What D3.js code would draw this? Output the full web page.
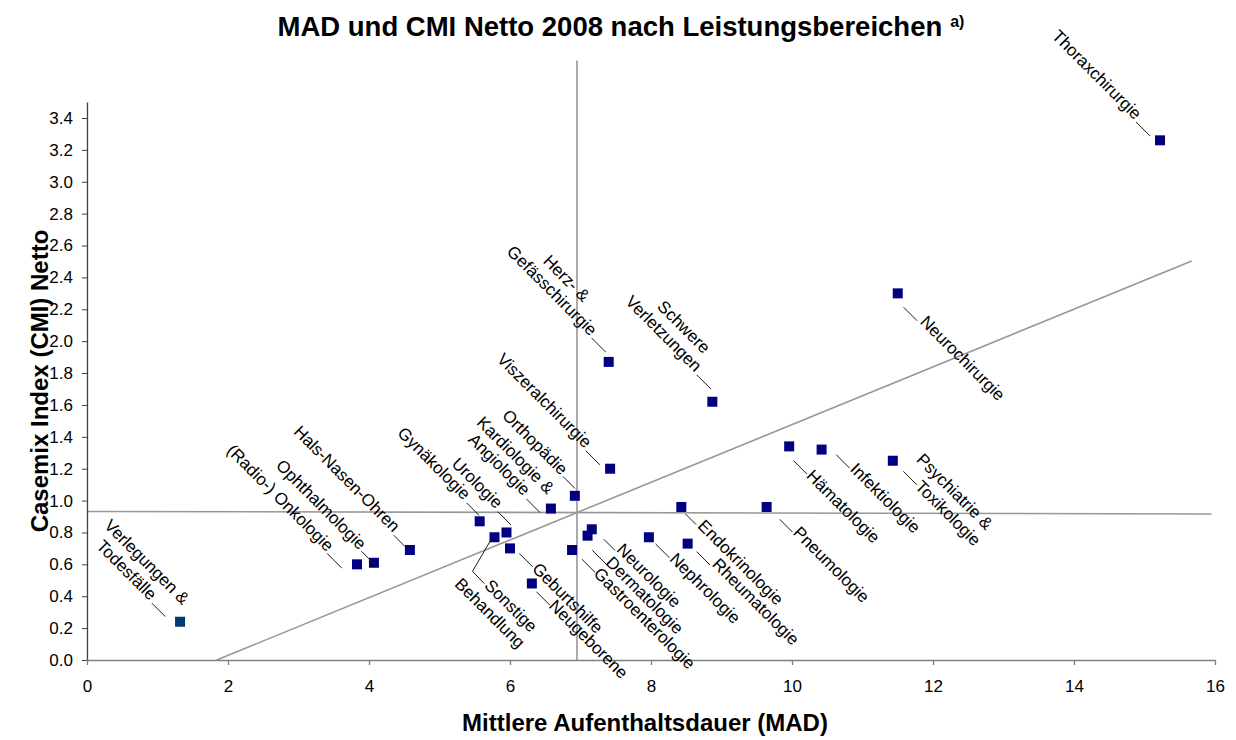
<!DOCTYPE html>
<html><head><meta charset="utf-8">
<script src="https://cdn.jsdelivr.net/npm/d3@7"></script>
<style>
body{margin:0;background:#fff}
text{font-family:"Liberation Sans",Arial,sans-serif;fill:#000}
</style>
</head><body>
<svg id="chart" width="1236" height="740"></svg>
<script>
// ---------- data ----------
const categories = [
  "Thoraxchirurgie","Neurochirurgie","Herz- &\nGefässchirurgie","Schwere\nVerletzungen",
  "Viszeralchirurgie","Hämatologie","Infektiologie","Psychiatrie &\nToxikologie",
  "Orthopädie","Kardiologie &\nAngiologie","Endokrinologie","Pneumologie",
  "Hals-Nasen-Ohren","Ophthalmologie","(Radio-) Onkologie","Verlegungen &\nTodesfälle",
  "Gynäkologie","Urologie","Sonstige\nBehandlung","Geburtshilfe",
  "Neugeborene","Gastroenterologie","Dermatologie","Neurologie",
  "Nephrologie","Rheumatologie"
];
const madValues = [15.22,11.50,7.40,8.87, 7.42,9.96,10.42,11.43, 6.92,6.58,8.43,9.64,
                   4.58,4.07,3.83,1.32, 5.57,5.95,5.78,6.00, 6.31,6.88,7.10,7.16, 7.97,8.52];
const cmiValues = [3.26,2.30,1.87,1.62, 1.20,1.34,1.32,1.25, 1.03,0.95,0.96,0.96,
                   0.69,0.61,0.60,0.24, 0.87,0.80,0.77,0.70, 0.48,0.69,0.78,0.82, 0.77,0.73];
const specialCategory = "Verlegungen &\nTodesfälle";

const xTickValues = [0,2,4,6,8,10,12,14,16];
const yTickValues = [0.0,0.2,0.4,0.6,0.8,1.0,1.2,1.4,1.6,1.8,2.0,2.2,2.4,2.6,2.8,3.0,3.2,3.4];

const meanMadLine = [[6.95,0],[6.95,3.76]];
const meanCmiLine = [[0,0.932],[15.95,0.916]];
const trendLine   = [[1.84,0],[15.67,2.503]];

const titleText = "MAD und CMI Netto 2008 nach Leistungsbereichen";
const titleNote = "a)";
const xTitleText = "Mittlere Aufenthaltsdauer (MAD)";
const yTitleText = "Casemix Index (CMI) Netto";

// ---------- label layout (offsets along / across the 45° diagonal, px) ----------
// side: ul = above-left (text ends near marker), dr = below-right (text starts after marker)
const labelLayout = {
  "Thoraxchirurgie":      {side:"ul", lines:[[-32,-4]], leader:[[-10,-4],[-30,-4]]},
  "Neurochirurgie":       {side:"dr", lines:[[36,-5.7]], leader:[[14,-5.7],[33,-5.7]]},
  "Herz- &\nGefässchirurgie": {side:"ul", lines:[[-60,23.5],[-31,4.6]], leader:[[-9,4.8],[-29,4.8]]},
  "Schwere\nVerletzungen":{side:"ul", lines:[[-40,27],[-33,8]], leader:[[-10,8],[-30,8]]},
  "Viszeralchirurgie":    {side:"ul", lines:[[-32,-4]], leader:[[-10,-4.5],[-30,-4.5]]},
  "Hämatologie":          {side:"dr", lines:[[33,-10]], leader:[[13,-7],[32,-7]]},
  "Infektiologie":        {side:"dr", lines:[[34,5]], leader:[[14,6.7],[33,6.7]]},
  "Psychiatrie &\nToxikologie": {side:"dr", lines:[[16,16.2],[34,-3.7]], leader:[[15,0],[34,0]]},
  "Orthopädie":           {side:"ul", lines:[[-24,4]], leader:[[-5,5.3],[-22,5.3]]},
  "Kardiologie &\nAngiologie": {side:"ul", lines:[[-12,7],[-28,-11]], leader:[[-5,-10.5],[-24,-10.5]]},
  "Endokrinologie":       {side:"dr", lines:[[25,-3]], leader:[[8,-2],[23,-2]]},
  "Pneumologie":          {side:"dr", lines:[[37,-0.7]], leader:[[18,0.5],[36,0.5]]},
  "Hals-Nasen-Ohren":     {side:"ul", lines:[[-24,0]], leader:[[-6,-1],[-22,-1]]},
  "Ophthalmologie":       {side:"ul", lines:[[-19,-2]], leader:[[4,-0.7],[-17,-0.7]]},
  "(Radio-) Onkologie":   {side:"ul", lines:[[-30,-13]], leader:[[-8,-13.4],[-29,-13.4]]},
  "Verlegungen &\nTodesfälle": {side:"ul", lines:[[-10,13],[-36,-7]], leader:[[-14,-6.8],[-33,-6.8]]},
  "Gynäkologie":          {side:"ul", lines:[[-26,3]], leader:[[-4.5,3.8],[-22,3.8]]},
  "Urologie":             {side:"ul", lines:[[-24,8.6]], leader:[[-2,8.5],[-21,8.5]]},
  "Sonstige\nBehandlung": {side:"dr", lines:[[27,-42.5],[5,-62.5]], leader:[[-1,-3],[8.5,-39.6],[25.5,-40]]},
  "Geburtshilfe":         {side:"dr", lines:[[30,0]], leader:[[10,3],[29,3]]},
  "Neugeborene":          {side:"dr", lines:[[28,-5]], leader:[[9,-2.6],[28,-2.6]]},
  "Gastroenterologie":    {side:"dr", lines:[[32,-2.8]], leader:[[13.6,0.5],[32.5,0.5]]},
  "Dermatologie":         {side:"dr", lines:[[32,-7.5]], leader:[[13.7,-7],[33,-7]]},
  "Neurologie":           {side:"dr", lines:[[32,2]], leader:[[15.6,1.5],[31.4,1.5]]},
  "Nephrologie":          {side:"dr", lines:[[30,-2]], leader:[[9.5,0],[29,0]]},
  "Rheumatologie":        {side:"dr", lines:[[32,1.4]], leader:[[12,0.7],[31,0.7]]}
};

// ---------- chart ----------
const svg = d3.select("#chart");
const x = d3.scaleLinear().domain([0,16]).range([87,1215]);
const y = d3.scaleLinear().domain([0,3.5]).range([660,102.06]);

const line = d3.line().x(d=>x(d[0])).y(d=>y(d[1]));

// reference lines
[meanMadLine, meanCmiLine, trendLine].forEach(l=>{
  svg.append("path").attr("d", line(l)).attr("fill","none")
     .attr("stroke","#979797").attr("stroke-width",1.6);
});

// axes
const yAxis = svg.append("g").attr("transform","translate(87,0)")
  .call(d3.axisLeft(y).tickValues(yTickValues).tickFormat(d3.format(".1f"))
        .tickSize(5).tickSizeOuter(0).tickPadding(9));
yAxis.selectAll("path,line").attr("stroke","#404040");
yAxis.selectAll("text").style("font-size","17px").attr("fill","#000");

const xAxis = svg.append("g").attr("transform","translate(0,660)")
  .call(d3.axisBottom(x).tickValues(xTickValues).tickFormat(d3.format("d"))
        .tickSize(5).tickSizeOuter(0).tickPadding(15));
xAxis.selectAll("path,line").attr("stroke","#7f7f7f").attr("stroke-width",1.3);
xAxis.selectAll("text").style("font-size","17px").attr("fill","#000");
svg.selectAll(".domain").attr("stroke-width",1.3);

// markers
const pts = categories.map((c,i)=>({name:c, mx:x(madValues[i]), my:y(cmiValues[i])}));
svg.append("g").selectAll("rect").data(pts).enter().append("rect")
  .attr("x",d=>d.mx-5).attr("y",d=>d.my-5).attr("width",10).attr("height",10)
  .attr("fill",d=>d.name===specialCategory?"#003a70":"#000080");

// labels + leaders
const R = Math.SQRT1_2;
function at(d,a,p){ return [d.mx + (a+p)*R, d.my + (a-p)*R]; }
const lg = svg.append("g");
pts.forEach(d=>{
  const L = labelLayout[d.name];
  lg.append("path")
    .attr("d", d3.line()(L.leader.map(q=>at(d,q[0],q[1]))))
    .attr("fill","none").attr("stroke","#1a1a1a").attr("stroke-width",1);
  d.name.split("\n").forEach((t,k)=>{
    const q = at(d, L.lines[k][0], L.lines[k][1]);
    lg.append("text")
      .attr("transform",`translate(${q[0]},${q[1]}) rotate(45)`)
      .attr("text-anchor", L.side==="ul"?"end":"start")
      .style("font-size","17px")
      .text(t);
  });
});

// titles
const tt = svg.append("text").attr("x",621).attr("y",36).attr("text-anchor","middle")
  .style("font-weight","bold");
tt.append("tspan").style("font-size","27.5px").text(titleText);
tt.append("tspan").style("font-size","16px").attr("dx",8).attr("dy",-9).text(titleNote);

svg.append("text").attr("x",645).attr("y",731).attr("text-anchor","middle")
  .style("font-weight","bold").style("font-size","24px").text(xTitleText);

svg.append("text").attr("transform","translate(48,381) rotate(-90)").attr("text-anchor","middle")
  .style("font-weight","bold").style("font-size","24px").text(yTitleText);
</script>
</body></html>
